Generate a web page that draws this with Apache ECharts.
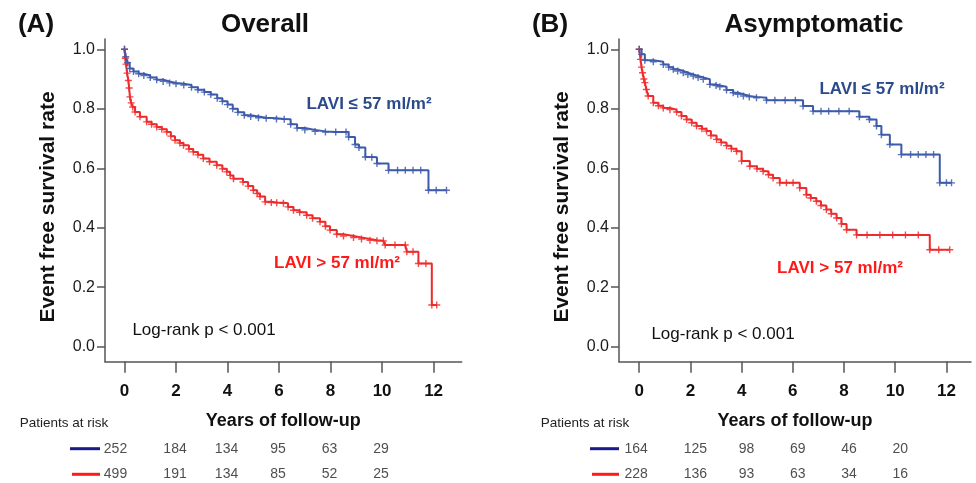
<!DOCTYPE html>
<html><head><meta charset="utf-8">
<script src="https://cdn.jsdelivr.net/npm/echarts@6/dist/echarts.min.js"></script>
<style>html,body{margin:0;padding:0;background:#fff}#c{width:976px;height:483px}</style>
</head><body><div id="c"></div>
<script>
// ---- Data ----
const xTicks = [0, 2, 4, 6, 8, 10, 12];
const yTicks = [0, 0.2, 0.4, 0.6, 0.8, 1.0];
const riskTimes = [0, 2, 4, 6, 8, 10];

// Panel A: Overall
const overallLow = [[0,1],[0.05,0.975],[0.12,0.955],[0.2,0.935],[0.35,0.925],[0.55,0.918],[0.75,0.912],[1.0,0.905],[1.25,0.898],[1.5,0.892],[1.75,0.887],[2.0,0.884],[2.3,0.880],[2.6,0.872],[2.85,0.864],[3.1,0.856],[3.35,0.848],[3.6,0.835],[3.8,0.825],[4.0,0.814],[4.2,0.800],[4.4,0.788],[4.65,0.778],[4.9,0.774],[5.2,0.770],[5.5,0.768],[5.9,0.766],[6.2,0.765],[6.45,0.748],[6.7,0.735],[7.0,0.729],[7.4,0.724],[7.8,0.722],[8.2,0.722],[8.6,0.722],[8.7,0.705],[8.95,0.680],[9.1,0.670],[9.35,0.638],[9.6,0.637],[9.8,0.616],[10.25,0.593],[10.6,0.593],[10.9,0.593],[11.2,0.593],[11.5,0.593],[11.8,0.526],[12.1,0.526],[12.5,0.526]];
const overallHigh = [[0,1],[0.03,0.97],[0.06,0.95],[0.1,0.92],[0.15,0.895],[0.18,0.87],[0.21,0.84],[0.26,0.82],[0.32,0.806],[0.41,0.789],[0.6,0.773],[0.86,0.756],[1.05,0.748],[1.25,0.739],[1.45,0.731],[1.64,0.722],[1.8,0.708],[1.96,0.694],[2.15,0.685],[2.29,0.677],[2.5,0.665],[2.67,0.655],[2.85,0.645],[3.06,0.633],[3.3,0.622],[3.58,0.610],[3.8,0.598],[3.97,0.588],[4.1,0.576],[4.23,0.565],[4.6,0.554],[4.8,0.54],[5.0,0.526],[5.15,0.515],[5.26,0.505],[5.46,0.487],[5.7,0.485],[5.91,0.484],[6.17,0.482],[6.35,0.47],[6.56,0.459],[6.8,0.452],[7.07,0.442],[7.3,0.432],[7.59,0.42],[7.8,0.405],[7.98,0.392],[8.24,0.378],[8.5,0.372],[8.89,0.367],[9.2,0.362],[9.53,0.358],[9.8,0.356],[10.05,0.356],[10.12,0.342],[10.5,0.342],[10.9,0.342],[10.96,0.319],[11.2,0.319],[11.41,0.28],[11.7,0.28],[11.93,0.14],[12.12,0.14]];
const overallRiskLow = [252, 184, 134, 95, 63, 29];
const overallRiskHigh = [499, 191, 134, 85, 52, 25];

// Panel B: Asymptomatic
const asympLow = [[0,1],[0.09,0.983],[0.22,0.963],[0.55,0.958],[0.94,0.949],[1.15,0.94],[1.33,0.933],[1.5,0.927],[1.72,0.921],[1.9,0.915],[2.11,0.910],[2.3,0.905],[2.5,0.899],[2.76,0.882],[3.0,0.878],[3.15,0.874],[3.41,0.863],[3.67,0.854],[3.85,0.849],[4.07,0.843],[4.3,0.840],[4.58,0.837],[4.97,0.829],[5.3,0.829],[5.7,0.829],[6.1,0.829],[6.4,0.809],[6.79,0.792],[7.1,0.792],[7.4,0.792],[7.8,0.792],[8.2,0.792],[8.6,0.773],[8.99,0.764],[9.27,0.742],[9.46,0.713],[9.79,0.680],[10.24,0.646],[10.6,0.646],[10.9,0.646],[11.2,0.646],[11.5,0.646],[11.74,0.551],[12.0,0.551],[12.2,0.551]];
const asympHigh = [[0,1],[0.05,0.966],[0.09,0.94],[0.13,0.921],[0.18,0.9],[0.22,0.888],[0.28,0.865],[0.35,0.843],[0.55,0.82],[0.75,0.81],[0.94,0.803],[1.2,0.797],[1.46,0.789],[1.65,0.776],[1.85,0.764],[2.05,0.753],[2.24,0.742],[2.45,0.733],[2.63,0.725],[2.8,0.71],[3.02,0.697],[3.2,0.687],[3.41,0.676],[3.6,0.666],[3.8,0.657],[4.0,0.624],[4.32,0.607],[4.6,0.598],[4.84,0.590],[5.05,0.578],[5.23,0.567],[5.49,0.551],[5.75,0.551],[6.01,0.551],[6.27,0.534],[6.53,0.511],[6.7,0.5],[6.92,0.489],[7.1,0.475],[7.31,0.461],[7.5,0.447],[7.71,0.433],[7.9,0.413],[8.1,0.393],[8.49,0.376],[8.9,0.376],[9.4,0.376],[9.9,0.376],[10.4,0.376],[10.9,0.376],[11.35,0.326],[11.7,0.326],[12.13,0.326]];
const asympRiskLow = [164, 125, 98, 69, 46, 20];
const asympRiskHigh = [228, 136, 93, 63, 34, 16];

// ---- Styling ----
const BLUE = '#3d5bab', RED = '#ee2b2b';
const LBL_BLUE = '#2b4a8b', LBL_RED = '#ff1a1a';
const AX = '#555';
const FONT = '"Liberation Sans", Arial, sans-serif';
const PLUS = 'path://M4,0H6V4H10V6H6V10H4V6H0V4H4Z';

const panels = [
  {left:105, right:514.3, xmin:-0.757, xmax:13.09, low:overallLow, high:overallHigh, rLow:overallRiskLow, rHigh:overallRiskHigh, riskOff:[-9,0], riskOff2:[-1,0]},
  {left:619, right:5, xmin:-0.79, xmax:12.96, low:asympLow, high:asympHigh, rLow:asympRiskLow, rHigh:asympRiskHigh, riskOff:[-3,0], riskOff2:[5,0]}
];

const grid = [], xAxis = [], yAxis = [], series = [];
panels.forEach((p, i) => {
  grid.push({left:p.left, right:p.right, top:39, bottom:121.3, containLabel:false});
  xAxis.push({
    type:'value', gridIndex:i, min:p.xmin, max:p.xmax,
    axisLine:{show:true, onZero:false, lineStyle:{color:AX, width:1.5}},
    axisTick:{show:true, length:11, customValues:xTicks, lineStyle:{color:AX, width:1.5}},
    axisLabel:{show:true, customValues:xTicks, margin:21, fontSize:17, fontWeight:'bold', color:'#111', fontFamily:FONT, formatter:v=>String(v)},
    splitLine:{show:false},
    name:'Years of follow-up', nameLocation:'middle', nameGap:50,
    nameTextStyle:{fontSize:18, fontWeight:'bold', color:'#111', fontFamily:FONT}
  });
  yAxis.push({
    type:'value', gridIndex:i, min:-0.0504, max:1.0346,
    axisLine:{show:true, onZero:false, lineStyle:{color:AX, width:1.5}},
    axisTick:{show:true, length:8, customValues:yTicks, lineStyle:{color:AX, width:1.5}},
    axisLabel:{show:true, customValues:yTicks, margin:10, fontSize:16, color:'#1a1a1a', fontFamily:FONT, formatter:v=>v.toFixed(1)},
    splitLine:{show:false}
  });
  const mk = (data, color) => ({
    type:'line', xAxisIndex:i, yAxisIndex:i, data:data, step:'end',
    symbol:PLUS, symbolSize:7, showSymbol:true, showAllSymbol:true,
    lineStyle:{color:color, width:2}, itemStyle:{color:color, opacity:0.85},
    animation:false, silent:true, z:3
  });
  series.push(mk(p.high, RED));
  series.push(mk(p.low, BLUE));
});

// risk table grids
panels.forEach((p, i) => {
  const gi = 2 + i;
  grid.push({left:p.left, right:p.right, top:448.7, height:25.6});
  xAxis.push({type:'value', gridIndex:gi, min:p.xmin, max:p.xmax, show:false});
  yAxis.push({type:'value', gridIndex:gi, min:0, max:1, show:false});
  const build = (arr, yv) => arr.map((n, k) => ({
    value:[riskTimes[k], yv, n],
    label:{offset: k === 0 ? p.riskOff : p.riskOff2}
  }));
  series.push({
    type:'scatter', xAxisIndex:gi, yAxisIndex:gi, clip:false, silent:true, animation:false,
    symbolSize:1, itemStyle:{color:'rgba(0,0,0,0)'},
    data: build(p.rLow, 1).concat(build(p.rHigh, 0)),
    label:{show:true, position:'inside', formatter:d=>String(d.value[2]), fontSize:14, color:'#222', fontFamily:FONT}
  });
});

const txt = (x, y, text, size, weight, color, extra) => Object.assign({
  type:'text', x:x, y:y, silent:true,
  style:{text:text, fontSize:size, fontWeight:weight, fill:color, fontFamily:FONT, align:'center', verticalAlign:'middle'}
}, extra || {});
const seg = (x1, x2, y, color) => ({type:'line', silent:true, shape:{x1:x1, y1:y, x2:x2, y2:y}, style:{stroke:color, lineWidth:3}});

const graphic = [
  txt(36, 25, '(A)', 26, 'bold', '#111'),
  txt(265, 25, 'Overall', 26, 'bold', '#111'),
  txt(550, 25, '(B)', 26, 'bold', '#111'),
  txt(814, 25, 'Asymptomatic', 26, 'bold', '#111'),
  txt(48, 207, 'Event free survival rate', 21, 'bold', '#111', {rotation:Math.PI/2}),
  txt(562, 207, 'Event free survival rate', 21, 'bold', '#111', {rotation:Math.PI/2}),
  txt(369, 104, 'LAVI ≤ 57 ml/m²', 17, 'bold', LBL_BLUE),
  txt(337, 263, 'LAVI > 57 ml/m²', 17, 'bold', LBL_RED),
  txt(204, 330, 'Log-rank p < 0.001', 17, 'normal', '#111'),
  txt(882, 89, 'LAVI ≤ 57 ml/m²', 17, 'bold', LBL_BLUE),
  txt(840, 268, 'LAVI > 57 ml/m²', 17, 'bold', LBL_RED),
  txt(723, 334, 'Log-rank p < 0.001', 17, 'normal', '#111'),
  txt(64, 423, 'Patients at risk', 13.5, 'normal', '#222'),
  txt(585, 423, 'Patients at risk', 13.5, 'normal', '#222'),
  seg(70, 100, 448.7, '#1a1a8a'),
  seg(72, 100, 474.3, '#ff1a1a'),
  seg(590, 619, 448.7, '#1a1a8a'),
  seg(592, 619, 474.3, '#ff1a1a')
];

const chart = echarts.init(document.getElementById('c'), null, {renderer:'canvas'});
chart.setOption({
  backgroundColor:'#fff', animation:false,
  grid:grid, xAxis:xAxis, yAxis:yAxis, series:series, graphic:graphic
});
</script>
</body></html>
